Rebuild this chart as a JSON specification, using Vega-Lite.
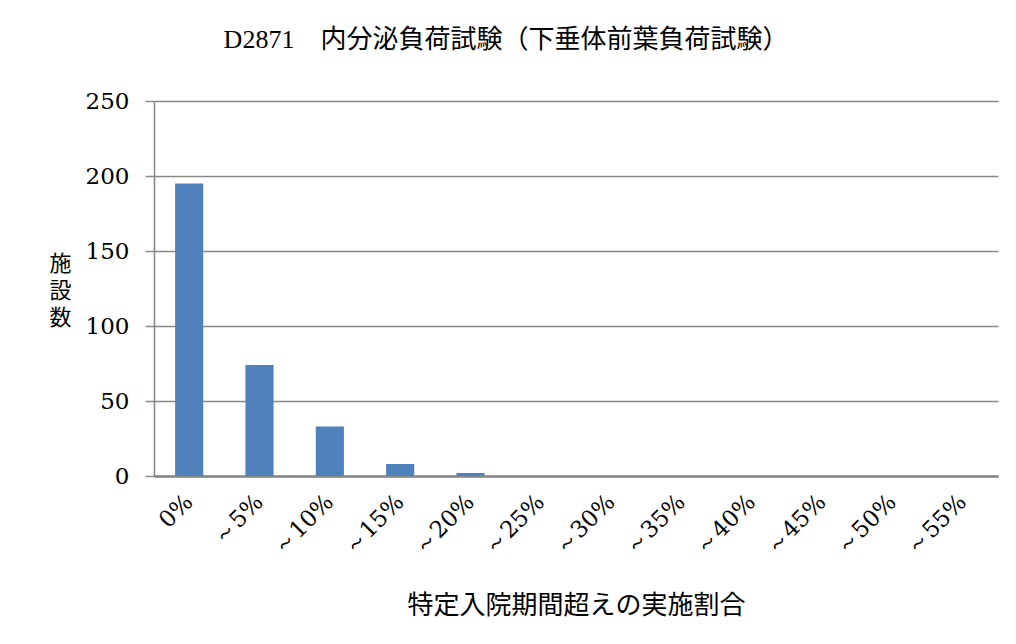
{
  "$schema": "https://vega.github.io/schema/vega-lite/v6.json",
  "width": 844,
  "height": 375,
  "autosize": {"type": "none"},
  "padding": {"left": 154, "top": 101, "right": 18, "bottom": 168},
  "background": "white",
  "title": {
    "text": "D2871　内分泌負荷試験（下垂体前葉負荷試験）",
    "font": "Liberation Serif, Noto Sans CJK JP",
    "fontSize": 26,
    "fontWeight": "normal",
    "color": "black",
    "anchor": "middle",
    "dx": -70,
    "offset": 37
  },
  "data": {
    "values": [
      {"cat": "0%", "count": 195},
      {"cat": "～5%", "count": 74},
      {"cat": "～10%", "count": 33},
      {"cat": "～15%", "count": 8},
      {"cat": "～20%", "count": 2},
      {"cat": "～25%", "count": 0},
      {"cat": "～30%", "count": 0},
      {"cat": "～35%", "count": 0},
      {"cat": "～40%", "count": 0},
      {"cat": "～45%", "count": 0},
      {"cat": "～50%", "count": 0},
      {"cat": "～55%", "count": 0}
    ]
  },
  "mark": {"type": "bar", "color": "#4F81BD"},
  "encoding": {
    "x": {
      "field": "cat",
      "type": "nominal",
      "sort": null,
      "scale": {"paddingInner": 0.6, "paddingOuter": 0.3},
      "axis": {
        "title": "特定入院期間超えの実施割合",
        "titleFont": "Noto Sans CJK JP",
        "titleFontSize": 26,
        "titleFontWeight": "normal",
        "titleColor": "black",
        "titlePadding": 34,
        "labelAngle": -45,
        "labelAlign": "right",
        "labelBaseline": "middle",
        "labelFont": "DejaVu Serif",
        "labelFontSize": 23,
        "labelColor": "black",
        "labelPadding": 22,
        "ticks": false,
        "domainColor": "#868686",
        "domainWidth": 2.5,
        "grid": false
      }
    },
    "y": {
      "field": "count",
      "type": "quantitative",
      "scale": {"domain": [0, 250]},
      "axis": {
        "values": [0, 50, 100, 150, 200, 250],
        "title": ["施", "設", "数"],
        "titleAngle": 0,
        "titleFont": "Noto Sans CJK JP",
        "titleFontSize": 22,
        "titleFontWeight": "normal",
        "titleColor": "black",
        "titleLineHeight": 27,
        "titleX": -94,
        "titleY": 162,
        "titleAlign": "center",
        "titleBaseline": "middle",
        "labelFont": "DejaVu Serif",
        "labelFontSize": 23,
        "labelColor": "black",
        "labelPadding": 16,
        "tickSize": 9,
        "tickColor": "#868686",
        "tickWidth": 1.5,
        "domainColor": "#868686",
        "domainWidth": 1.5,
        "gridColor": "#868686",
        "gridWidth": 1.5
      }
    }
  },
  "config": {"view": {"stroke": null}}
}
